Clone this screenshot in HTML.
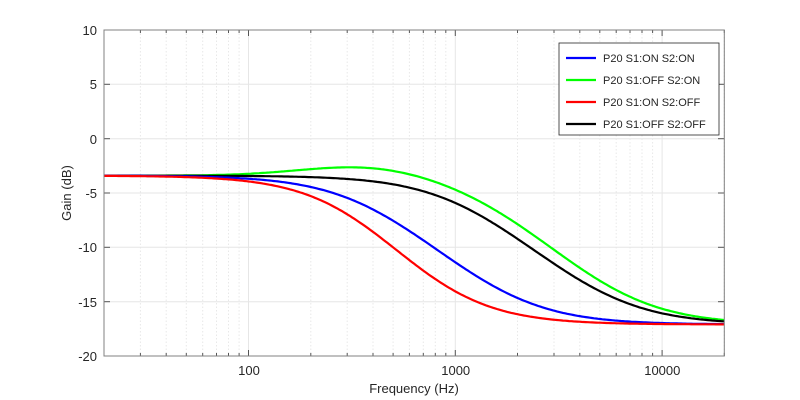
<!DOCTYPE html>
<html><head><style>body{margin:0;background:#fff}svg{display:block}text{font-family:"Liberation Sans",sans-serif;fill:#262626}</style></head>
<body><svg id="s" width="800" height="400" xmlns="http://www.w3.org/2000/svg">
<g id="grid"></g>
<g id="curves" fill="none" stroke-width="2.2"></g>
<rect x="104" y="30" width="620.3" height="326" fill="none" stroke="#808080" stroke-width="1"/>
<g font-size="13" text-anchor="end">
<text x="97" y="35">10</text><text x="97" y="89">5</text><text x="97" y="144">0</text><text x="97" y="198">-5</text><text x="97" y="252">-10</text><text x="97" y="307">-15</text><text x="97" y="361">-20</text>
</g>
<g font-size="13" text-anchor="middle">
<text x="249" y="375">100</text><text x="455.7" y="375">1000</text><text x="662.3" y="375">10000</text>
<text x="414" y="393">Frequency (Hz)</text>
</g>
<text font-size="13" text-anchor="middle" transform="translate(71,193) rotate(-90)">Gain (dB)</text>
<rect x="559" y="43" width="160" height="92" fill="#fff" stroke="#262626" stroke-width="0.8"/>
<g stroke-width="2.2">
<line x1="566" x2="596" y1="58" y2="58" stroke="#0000ff"/>
<line x1="566" x2="596" y1="80" y2="80" stroke="#00ff00"/>
<line x1="566" x2="596" y1="102" y2="102" stroke="#ff0000"/>
<line x1="566" x2="596" y1="124" y2="124" stroke="#000"/>
</g>
<g font-size="11">
<text x="603" y="62">P20 S1:ON S2:ON</text>
<text x="603" y="84">P20 S1:OFF S2:ON</text>
<text x="603" y="106">P20 S1:ON S2:OFF</text>
<text x="603" y="128">P20 S1:OFF S2:OFF</text>
</g>
</svg>
<script>
var L=104,R=724.3,T=30,B=356,D=206.77;
function X(f){return L+(Math.log10(f)-Math.log10(20))*D}
function Y(db){return T+(10-db)*(B-T)/30}
var g='';
for(var e=1;e<=4;e++)for(var m=1;m<10;m++){var f=m*Math.pow(10,e);if(f<20||f>20000)continue;var x=X(f).toFixed(1);
 if(m==1)g+='<line x1="'+x+'" x2="'+x+'" y1="30" y2="356" stroke="#e6e6e6"/><line x1="'+x+'" x2="'+x+'" y1="30" y2="36" stroke="#555"/><line x1="'+x+'" x2="'+x+'" y1="356" y2="350" stroke="#555"/>';
 else g+='<line x1="'+x+'" x2="'+x+'" y1="30" y2="356" stroke="#e8e8e8" stroke-dasharray="1.5,2"/><line x1="'+x+'" x2="'+x+'" y1="30" y2="33" stroke="#555"/><line x1="'+x+'" x2="'+x+'" y1="356" y2="353" stroke="#555"/>';}
for(var d=-20;d<=10;d+=5){var y=Y(d).toFixed(1);g+='<line x1="104" x2="724" y1="'+y+'" y2="'+y+'" stroke="#e6e6e6"/><line x1="104" x2="110" y1="'+y+'" y2="'+y+'" stroke="#555"/><line x1="724" x2="718" y1="'+y+'" y2="'+y+'" stroke="#555"/>';}
document.getElementById('grid').innerHTML=g;
var Gl=-3.4,Gh=-17.1,r=Math.pow(10,(Gl-Gh)/20);
function sh(fc,ratio,f){var k=Math.sqrt(ratio),wz=fc*k,wp=fc/k;return 10*Math.log10((1+Math.pow(f/wz,2))/(1+Math.pow(f/wp,2)));}
var h2=Math.sqrt(r);
function peak(f,A,c,w){var z=Math.log10(f/c)/w;return A*Math.exp(-z*z);}
var cs=[
 ["#00ff00",function(f){return Gl+sh(2100,h2,f)+sh(4300,h2,f)+peak(f,1.0,380,0.45);}],
 ["#000",function(f){return Gl+sh(1600,h2,f)+sh(3600,h2,f);}],
 ["#0000ff",function(f){return Gl+sh(820,r,f);}],
 ["#ff0000",function(f){return Gl+sh(500,h2,f)+sh(540,h2,f);}]];
var h='';
cs.forEach(function(c){var p='';for(var i=0;i<=300;i++){var lf=Math.log10(20)+i/300*3;var f=Math.pow(10,lf);p+=(i?'L':'M')+X(f).toFixed(1)+','+Y(c[1](f)).toFixed(1);}h+='<path d="'+p+'" stroke="'+c[0]+'"/>';});
document.getElementById('curves').innerHTML=h;
</script>
</body></html>
